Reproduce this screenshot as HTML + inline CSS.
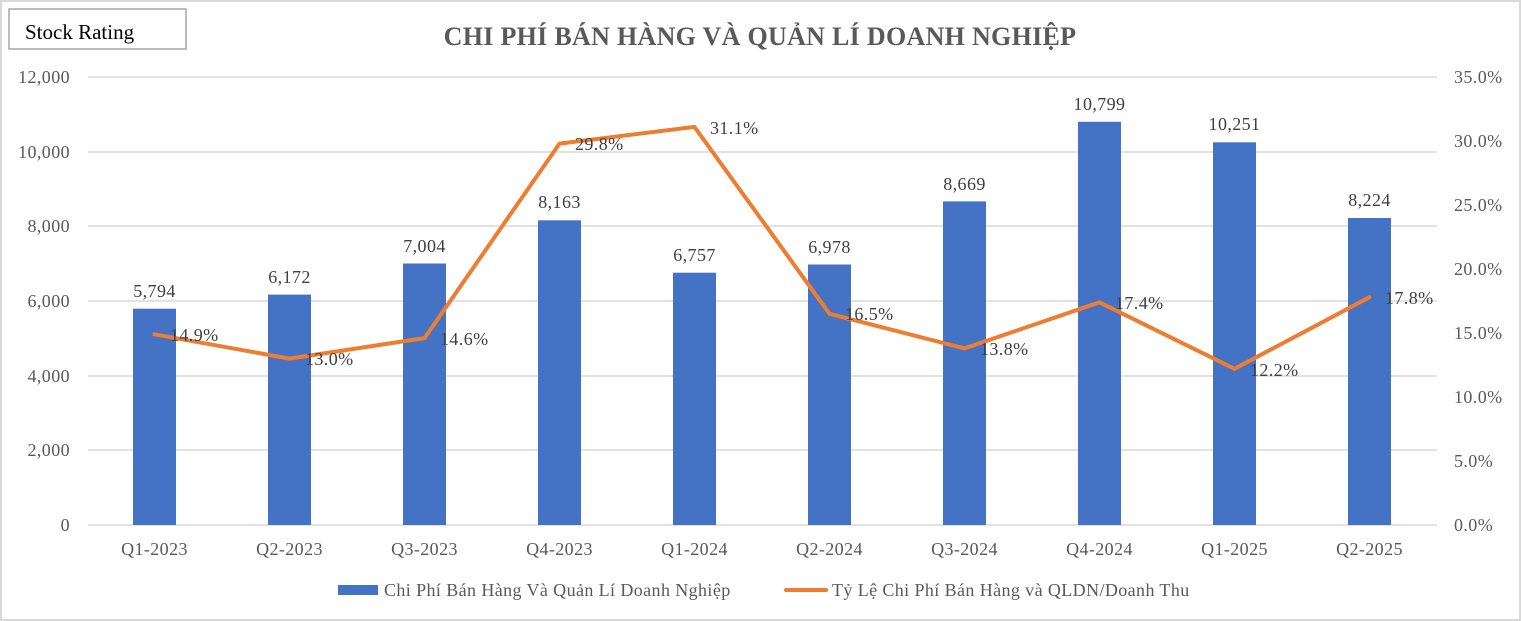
<!DOCTYPE html>
<html><head><meta charset="utf-8"><style>
html,body{margin:0;padding:0;background:#fff}
svg{display:block;font-family:"Liberation Serif",serif}
.t{font-size:18px;letter-spacing:0.4px}
</style></head><body>
<svg width="1521" height="621" viewBox="0 0 1521 621">
<rect x="1" y="1" width="1519" height="619" fill="#fff" stroke="#d9d9d9" stroke-width="2"/>
<rect x="9" y="9" width="177" height="40" fill="#fff" stroke="#a6a6a6" stroke-width="1.5"/>
<text x="25" y="39" font-size="21" fill="#000">Stock Rating</text>
<text x="760" y="45" font-size="26" font-weight="bold" fill="#595959" text-anchor="middle" letter-spacing="0.3">CHI PHÍ BÁN HÀNG VÀ QUẢN LÍ DOANH NGHIỆP</text>
<g stroke="#d9d9d9" stroke-width="1.5">
<line x1="88" x2="1437" y1="77" y2="77"/><line x1="88" x2="1437" y1="152" y2="152"/>
<line x1="88" x2="1437" y1="226" y2="226"/><line x1="88" x2="1437" y1="301" y2="301"/>
<line x1="88" x2="1437" y1="376" y2="376"/><line x1="88" x2="1437" y1="450" y2="450"/>
<line x1="88" x2="1437" y1="525" y2="525"/>
</g>
<g class="t" fill="#595959" text-anchor="end">
<text x="70" y="83">12,000</text><text x="70" y="158">10,000</text><text x="70" y="232">8,000</text>
<text x="70" y="307">6,000</text><text x="70" y="382">4,000</text><text x="70" y="456">2,000</text><text x="70" y="531">0</text>
</g>
<g class="t" fill="#595959" text-anchor="start">
<text x="1454" y="83">35.0%</text><text x="1454" y="147">30.0%</text><text x="1454" y="211">25.0%</text>
<text x="1454" y="275">20.0%</text><text x="1454" y="339">15.0%</text><text x="1454" y="403">10.0%</text>
<text x="1454" y="467">5.0%</text><text x="1454" y="531">0.0%</text>
</g>
<g fill="#4472c4">
<rect x="133" y="308.7" width="43" height="216.3"/>
<rect x="268" y="294.6" width="43" height="230.4"/>
<rect x="403" y="263.5" width="43" height="261.5"/>
<rect x="538" y="220.3" width="43" height="304.7"/>
<rect x="673" y="272.7" width="43" height="252.3"/>
<rect x="808" y="264.5" width="43" height="260.5"/>
<rect x="943" y="201.4" width="43" height="323.6"/>
<rect x="1078" y="121.8" width="43" height="403.2"/>
<rect x="1213" y="142.3" width="43" height="382.7"/>
<rect x="1348" y="218" width="43" height="307"/>
</g>
<g class="t" fill="#404040" text-anchor="middle">
<text x="154.5" y="297">5,794</text><text x="289.5" y="283">6,172</text><text x="424.5" y="252">7,004</text>
<text x="559.5" y="208">8,163</text><text x="694.5" y="261">6,757</text><text x="829.5" y="253">6,978</text>
<text x="964.5" y="190">8,669</text><text x="1099.5" y="110">10,799</text><text x="1234.5" y="130">10,251</text>
<text x="1369.5" y="206">8,224</text>
</g>
<polyline fill="none" stroke="#ed7d31" stroke-width="4" stroke-linejoin="round" stroke-linecap="round"
points="154.5,334.3 289.5,358.6 424.5,338.1 559.5,143.6 694.5,126.9 829.5,313.8 964.5,348.4 1099.5,302.3 1234.5,368.8 1369.5,297.2"/>
<g class="t" fill="#404040">
<text x="170" y="341">14.9%</text><text x="305" y="365">13.0%</text><text x="440" y="345">14.6%</text>
<text x="575" y="150">29.8%</text><text x="710" y="134">31.1%</text><text x="845" y="320">16.5%</text>
<text x="980" y="355">13.8%</text><text x="1115" y="309">17.4%</text><text x="1250" y="376">12.2%</text>
<text x="1385" y="304">17.8%</text>
</g>
<g class="t" fill="#595959" text-anchor="middle">
<text x="154.5" y="555">Q1-2023</text><text x="289.5" y="555">Q2-2023</text><text x="424.5" y="555">Q3-2023</text>
<text x="559.5" y="555">Q4-2023</text><text x="694.5" y="555">Q1-2024</text><text x="829.5" y="555">Q2-2024</text>
<text x="964.5" y="555">Q3-2024</text><text x="1099.5" y="555">Q4-2024</text><text x="1234.5" y="555">Q1-2025</text>
<text x="1369.5" y="555">Q2-2025</text>
</g>
<rect x="338" y="585" width="40" height="10" fill="#4472c4"/>
<text x="384" y="596" class="t" fill="#595959">Chi Phí Bán Hàng Và Quản Lí Doanh Nghiệp</text>
<line x1="786" x2="826" y1="590" y2="590" stroke="#ed7d31" stroke-width="4" stroke-linecap="round"/>
<text x="832" y="596" class="t" fill="#595959">Tỷ Lệ Chi Phí Bán Hàng và QLDN/Doanh Thu</text>
</svg>
</body></html>
